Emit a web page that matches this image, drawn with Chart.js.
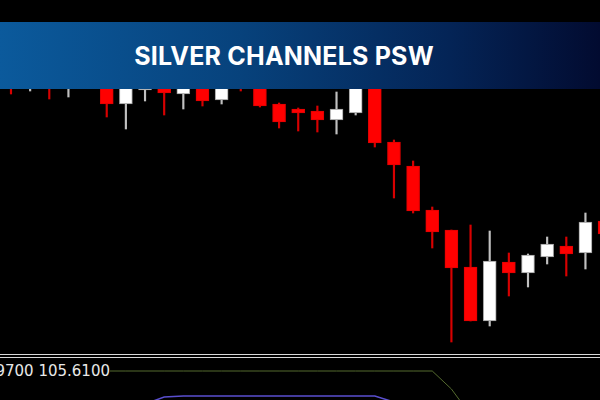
<!DOCTYPE html>
<html>
<head>
<meta charset="utf-8">
<script src="https://cdn.jsdelivr.net/npm/chart.js@4/dist/chart.umd.min.js"></script>
<style>
  html, body { margin: 0; padding: 0; background: #000; width: 600px; height: 400px; overflow: hidden; }
  #wrap { position: relative; width: 600px; height: 400px; }
  #main { position: absolute; left: 0; top: 0; }
  #sep { position: absolute; left: 0; top: 354px; width: 600px; height: 2px; border-top: 1px solid #d8d8d8; border-bottom: 1px solid #d8d8d8; }
  #sub { position: absolute; left: 0; top: 358px; }
  #label { position: absolute; right: 490px; top: 362px; background: #000; color: #e8e8e8;
           font-family: "DejaVu Sans", sans-serif; font-size: 15px; line-height: 18px; white-space: nowrap; }
  #banner { position: absolute; left: 0; top: 22px; width: 600px; height: 67px;
            background: linear-gradient(90deg, #0b5a9c 0%, #07427c 40%, #042456 75%, #020b30 100%);
            display: flex; align-items: center; justify-content: center; }
  #banner span { color: #fff; font-family: Inter, "Open Sans", sans-serif; font-weight: 700; font-size: 25px;
                 letter-spacing: 0.2px; margin-right: 32px; }
</style>
</head>
<body>
<div id="wrap">
  <canvas id="main" width="600" height="354"></canvas>
  <div id="sep"></div>
  <canvas id="sub" width="600" height="42"></canvas>
  <div id="label">105.9700 105.6100</div>
  <div id="banner"><span>SILVER CHANNELS PSW</span></div>
</div>
<script>
// candle prices, one entry per bar
const openP  = [105.84, 105.74, 105.82, 105.70, 105.84, 105.72, 105.50, 105.64, 105.74, 105.60, 105.71, 105.54, 105.79, 105.70, 105.50, 105.45,
                105.43, 105.34, 105.41, 105.68, 105.12, 104.88, 104.44, 104.24, 103.87, 103.33, 103.92, 103.81, 103.97, 104.08, 104.01, 104.33];
const highP  = [105.94, 105.94, 105.89, 105.88, 105.99, 105.79, 105.82, 105.76, 105.80, 105.78, 105.76, 105.74, 105.84, 105.76, 105.51, 105.46,
                105.48, 105.62, 105.74, 105.74, 105.14, 104.93, 104.47, 104.24, 104.29, 104.23, 104.01, 104.00, 104.17, 104.17, 104.41, 104.39];
const lowP   = [105.60, 105.63, 105.55, 105.57, 105.74, 105.37, 105.25, 105.53, 105.39, 105.45, 105.48, 105.50, 105.63, 105.47, 105.26, 105.23,
                105.22, 105.20, 105.39, 105.07, 104.56, 104.41, 104.06, 103.12, 103.33, 103.28, 103.58, 103.67, 103.90, 103.78, 103.85, 104.14];
const closeP = [105.69, 105.84, 105.68, 105.80, 105.92, 105.50, 105.74, 105.70, 105.61, 105.72, 105.53, 105.68, 105.70, 105.48, 105.32, 105.41,
                105.34, 105.45, 105.68, 105.11, 104.89, 104.43, 104.22, 103.86, 103.33, 103.93, 103.81, 103.99, 104.10, 104.00, 104.32, 104.20];

// channel indicator lines in the lower window
const upperBand = [105.61, 105.61, 105.61, 105.61, 105.61, 105.61, 105.61, 105.61, 105.61, 105.61, 105.61, 105.61, 105.61,
                   105.61, 105.61, 105.61, 105.61, 105.61, 105.61, 105.61, 105.61, 105.61, 105.61, 105.43, 105.17];
const lowerStart = 7;
const lowerBand = [105.28, 105.35, 105.36, 105.36, 105.36, 105.36, 105.36, 105.36, 105.36, 105.36, 105.36, 105.36, 105.36, 105.30];

const bars = openP.map((o, i) => i);
const isUp = bars.map(i => closeP[i] >= openP[i]);

const xRange = { min: -0.574, max: 30.76 };

new Chart(document.getElementById('main'), {
    type: 'bar',
    data: {
        datasets: [
            {
                label: 'body',
                data: bars.map(i => ({ x: i, y: [openP[i], closeP[i]] })),
                backgroundColor: bars.map(i => isUp[i] ? '#ffffff' : '#ff0000'),
                borderColor: bars.map(i => isUp[i] ? '#9a9a9a' : '#e00000'),
                borderWidth: 1,
                borderSkipped: false,
                barThickness: 13,
                grouped: false
            },
            {
                label: 'wick',
                data: bars.map(i => ({ x: i, y: [lowP[i], highP[i]] })),
                backgroundColor: bars.map(i => isUp[i] ? '#c0c0c0' : '#d80000'),
                borderWidth: 0,
                barThickness: 1.5,
                grouped: false
            }
        ]
    },
    options: {
        responsive: false,
        animation: false,
        devicePixelRatio: 1,
        layout: { padding: 0 },
        plugins: { legend: { display: false }, tooltip: { enabled: false } },
        scales: {
            x: { type: 'linear', display: false, offset: false, min: xRange.min, max: xRange.max },
            y: { display: false, min: 103.00, max: 106.54 }
        }
    }
});

new Chart(document.getElementById('sub'), {
    type: 'line',
    data: {
        datasets: [
            {
                data: upperBand.map((v, i) => ({ x: i, y: v })),
                borderColor: '#556b2f',
                borderWidth: 1,
                pointRadius: 0,
                tension: 0
            },
            {
                data: lowerBand.map((v, i) => ({ x: i + lowerStart, y: v })),
                borderColor: '#5a4fcf',
                borderWidth: 1.5,
                pointRadius: 0,
                tension: 0
            }
        ]
    },
    options: {
        responsive: false,
        animation: false,
        devicePixelRatio: 1,
        layout: { padding: 0 },
        plugins: { legend: { display: false }, tooltip: { enabled: false } },
        scales: {
            x: { type: 'linear', display: false, offset: false, min: xRange.min, max: xRange.max },
            y: { display: false, min: 105.32, max: 105.74 }
        }
    }
});
</script>
</body>
</html>
